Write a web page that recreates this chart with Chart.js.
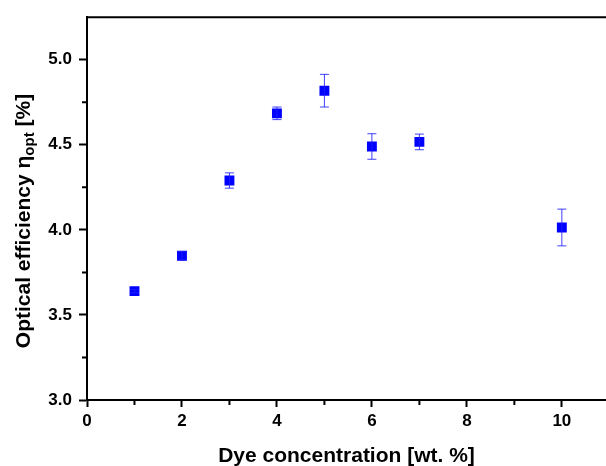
<!DOCTYPE html>
<html>
<head>
<meta charset="utf-8">
<script src="https://cdn.jsdelivr.net/npm/chart.js@4/dist/chart.umd.min.js"></script>
<style>
  html, body { margin: 0; padding: 0; background: #fff; }
  #wrap { width: 606px; height: 466px; position: relative; }
</style>
</head>
<body>
<div id="wrap"><canvas id="chart"></canvas></div>
<script>
// dye concentration (wt. %) and measured optical efficiency (%)
const concentration = [1, 2, 3, 4, 5, 6, 7, 10];
const efficiency = [3.64, 3.848, 4.29, 4.685, 4.818, 4.49, 4.517, 4.014];
const errorBars = [0.01, 0.025, 0.045, 0.037, 0.096, 0.075, 0.046, 0.108];

const xTicks = [0, 2, 4, 6, 8, 10];
const xMinorTicks = [1, 3, 5, 7, 9];
const yTicks = [3.0, 3.5, 4.0, 4.5, 5.0];
const yMinorTicks = [3.25, 3.75, 4.25, 4.75];

const tickFont = { family: 'Liberation Sans, Arial, sans-serif', size: 17, weight: 'bold' };

// error bars + minor ticks + top border + y title with subscript
const extras = {
    id: 'extras',
    afterDatasetsDraw(chart) {
        const ctx = chart.ctx;
        const x = chart.scales.x, y = chart.scales.y;
        ctx.save();
        ctx.strokeStyle = 'rgba(30, 30, 255, 0.85)';
        ctx.lineWidth = 1;
        concentration.forEach((c, i) => {
            const px = x.getPixelForValue(c);
            const top = y.getPixelForValue(efficiency[i] + errorBars[i]);
            const bot = y.getPixelForValue(efficiency[i] - errorBars[i]);
            ctx.beginPath();
            ctx.moveTo(px, top); ctx.lineTo(px, bot);
            ctx.moveTo(px - 4.5, top); ctx.lineTo(px + 4.5, top);
            ctx.moveTo(px - 4.5, bot); ctx.lineTo(px + 4.5, bot);
            ctx.stroke();
        });
        ctx.restore();
    },
    afterDraw(chart) {
        const ctx = chart.ctx;
        const x = chart.scales.x, y = chart.scales.y;
        const area = chart.chartArea;
        ctx.save();
        ctx.strokeStyle = '#000';
        ctx.lineWidth = 2;

        // top frame line
        ctx.beginPath();
        ctx.moveTo(area.left - 1, area.top);
        ctx.lineTo(chart.width, area.top);
        ctx.stroke();

        // minor ticks
        ctx.beginPath();
        xMinorTicks.forEach(v => {
            const px = x.getPixelForValue(v);
            ctx.moveTo(px, area.bottom);
            ctx.lineTo(px, area.bottom + 5);
        });
        yMinorTicks.forEach(v => {
            const py = y.getPixelForValue(v);
            ctx.moveTo(area.left, py);
            ctx.lineTo(area.left - 5, py);
        });
        ctx.stroke();

        // y axis title
        const main = 'Optical efficiency \u03b7';
        const sub = 'opt';
        const tail = ' [%]';
        const bigFont = 'bold 21px "Liberation Sans", Arial, sans-serif';
        const smallFont = 'bold 15px "Liberation Sans", Arial, sans-serif';
        ctx.font = bigFont;
        const w1 = ctx.measureText(main).width;
        const w3 = ctx.measureText(tail).width;
        ctx.font = smallFont;
        const w2 = ctx.measureText(sub).width;
        const total = w1 + w2 + w3;
        ctx.translate(30, 221);
        ctx.rotate(-Math.PI / 2);
        ctx.fillStyle = '#000';
        ctx.textBaseline = 'alphabetic';
        ctx.textAlign = 'left';
        let sx = -total / 2;
        ctx.font = bigFont;
        ctx.fillText(main, sx, 0);
        sx += w1;
        ctx.font = smallFont;
        ctx.fillText(sub, sx, 4);
        sx += w2;
        ctx.font = bigFont;
        ctx.fillText(tail, sx, 0);
        ctx.restore();
    }
};

new Chart(document.getElementById('chart'), {
    type: 'scatter',
    data: {
        datasets: [{
            data: concentration.map((c, i) => ({ x: c, y: efficiency[i] })),
            pointStyle: 'rect',
            pointRadius: 7,
            pointHoverRadius: 7,
            backgroundColor: '#0000ff',
            borderColor: '#0000ff',
            borderWidth: 0
        }]
    },
    options: {
        responsive: true,
        maintainAspectRatio: false,
        animation: false,
        layout: { autoPadding: false, padding: { top: 12, right: 0, left: 0, bottom: 0 } },
        plugins: {
            legend: { display: false },
            tooltip: { enabled: false }
        },
        scales: {
            x: {
                type: 'linear',
                min: 0,
                max: 10.93,
                afterBuildTicks: s => { s.ticks = xTicks.map(v => ({ value: v })); },
                afterFit: s => { s.height = 66; s.paddingRight = 0; s.paddingLeft = 0; },
                ticks: {
                    color: '#000',
                    font: tickFont,
                    padding: 4,
                    maxRotation: 0,
                    callback: v => String(v)
                },
                grid: {
                    drawOnChartArea: false,
                    tickLength: 7,
                    tickWidth: 2,
                    tickColor: '#000'
                },
                border: { display: true, color: '#000', width: 2 },
                title: {
                    display: true,
                    text: 'Dye concentration [wt. %]',
                    color: '#000',
                    font: { family: 'Liberation Sans, Arial, sans-serif', size: 21, weight: 'bold', lineHeight: 1.0 },
                    padding: { top: 0, bottom: -1 }
                }
            },
            y: {
                min: 3.0,
                max: 5.25,
                afterBuildTicks: s => { s.ticks = yTicks.map(v => ({ value: v })); },
                afterFit: s => { s.width = 87; },
                ticks: {
                    color: '#000',
                    font: tickFont,
                    padding: 7,
                    callback: v => Number(v).toFixed(1)
                },
                grid: {
                    drawOnChartArea: false,
                    tickLength: 8,
                    tickWidth: 2,
                    tickColor: '#000'
                },
                border: { display: true, color: '#000', width: 2 }
            }
        }
    },
    plugins: [extras]
});
</script>
</body>
</html>
